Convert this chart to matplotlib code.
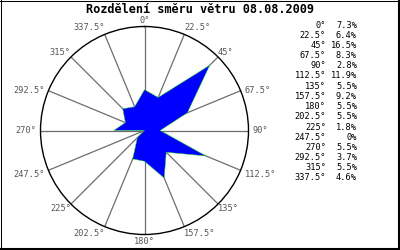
import numpy as np
import matplotlib
matplotlib.use("Agg")
import matplotlib.pyplot as plt
from matplotlib.lines import Line2D

title = "Rozdělení směru větru 08.08.2009"
directions = [0, 22.5, 45, 67.5, 90, 112.5, 135, 157.5, 180, 202.5, 225, 247.5, 270, 292.5, 315, 337.5]
percent = [7.3, 6.4, 16.5, 8.3, 2.8, 11.9, 5.5, 9.2, 5.5, 5.5, 1.8, 0, 5.5, 3.7, 5.5, 4.6]
dir_labels = ["0°", "22.5°", "45°", "67.5°", "90°", "112.5°", "135°", "157.5°", "180°",
              "202.5°", "225°", "247.5°", "270°", "292.5°", "315°", "337.5°"]
pct_labels = ["7.3%", "6.4%", "16.5%", "8.3%", "2.8%", "11.9%", "5.5%", "9.2%", "5.5%",
              "5.5%", "1.8%", "0%", "5.5%", "3.7%", "5.5%", "4.6%"]

W, H = 400, 250
fig = plt.figure(figsize=(4, 2.5), dpi=100)
fig.patch.set_facecolor("white")

mono = "DejaVu Sans Mono"
cx, cy, R = 144.5, 130.5, 104
ax = fig.add_axes([(cx - R) / W, (H - cy - R) / H, 2 * R / W, 2 * R / H], projection="polar")
ax.set_theta_zero_location("N")
ax.set_theta_direction(-1)
rmax = 18.6
ax.set_rlim(0, rmax)
ax.set_facecolor("white")
ax.grid(False)
ax.set_xticks([])
ax.set_yticks([])
ax.spines["polar"].set_color("black")
ax.spines["polar"].set_linewidth(1.0)

th = np.deg2rad(directions)
# spokes
for t in th:
    ax.plot([t, t], [0, rmax], color="#6e6e6e", lw=0.9, zorder=1)

ax.fill(th, percent, facecolor="#0000ff", edgecolor="#22dd22", lw=0.35, zorder=3)

# direction labels
for t, lab in zip(th, dir_labels):
    sx, cyy = np.sin(t), np.cos(t)
    ha = "left" if sx > 0.1 else ("right" if sx < -0.1 else "center")
    va = "bottom" if cyy > 0.5 else ("top" if cyy < -0.3 else "center")
    dx = 4 * np.sign(sx) if abs(sx) > 0.9 else 0
    dy = 2 * np.sign(cyy) if abs(cyy) > 0.9 else 0
    ax.annotate(lab, xy=(t, rmax), xytext=(dx, dy), textcoords="offset pixels",
                ha=ha, va=va, fontsize=6.2, family=mono, color="#555555",
                annotation_clip=False)

fig.text(0.5, 1 - 9.5 / H, title, ha="center", va="center", fontsize=8.6,
         fontweight="bold", family=mono, color="black")

# legend table
y0, dy_row = 25, 10.2
for i, (a, p) in enumerate(zip(dir_labels, pct_labels)):
    y = 1 - (y0 + i * dy_row) / H
    fig.text(326 / W, y, a, ha="right", va="center", fontsize=6.2, family=mono, color="black")
    fig.text(357 / W, y, p, ha="right", va="center", fontsize=6.2, family=mono, color="black")

# frame
fig.add_artist(Line2D([0.5 / W, 0.5 / W], [0, 1], color="black", lw=0.75, transform=fig.transFigure))
fig.add_artist(Line2D([0, 1], [1 - 0.5 / H, 1 - 0.5 / H], color="black", lw=0.75, transform=fig.transFigure))
fig.add_artist(Line2D([1 - 1.5 / W, 1 - 1.5 / W], [0, 1], color="black", lw=1.5, transform=fig.transFigure))
fig.add_artist(Line2D([0, 1], [1.5 / H, 1.5 / H], color="black", lw=1.5, transform=fig.transFigure))

fig.savefig("out.png", dpi=100, facecolor="white")
